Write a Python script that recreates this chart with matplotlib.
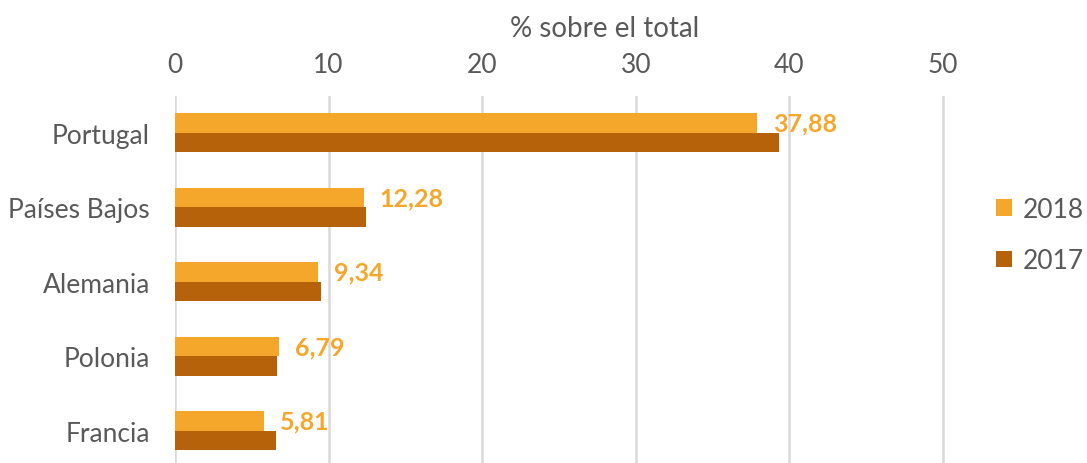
import matplotlib.pyplot as plt

paises = ["Portugal", "Países Bajos", "Alemania", "Polonia", "Francia"]
v2018 = [37.88, 12.28, 9.34, 6.79, 5.81]
v2017 = [39.3, 12.45, 9.5, 6.65, 6.55]
etiquetas = ["37,88", "12,28", "9,34", "6,79", "5,81"]

c2018 = "#F5A72B"
c2017 = "#B5620A"
gris = "#595959"

plt.rcParams['font.family'] = ['Lato', 'DejaVu Sans']

fig = plt.figure(figsize=(10.87, 4.64), dpi=100)
ax = fig.add_axes([175/1087, -5/464, 860/1087, 372.5/464])

y = list(range(len(paises)))
h = 0.26
ax.barh([i - h/2 for i in y], v2018, height=h, color=c2018, label="2018", zorder=3)
ax.barh([i + h/2 for i in y], v2017, height=h, color=c2017, label="2017", zorder=3)

for i, val in enumerate(v2018):
    ax.annotate(etiquetas[i], (val, i - h/2), xytext=(16, 0), textcoords="offset pixels",
                va="center", ha="left", color=c2018, fontsize=18, fontweight="bold")

ax.set_ylim(len(paises) - 0.5, -0.5)
ax.set_xlim(0, 56)
ax.set_xticks(range(0, 51, 10))
ax.set_yticks(y)
ax.set_yticklabels(paises)
ax.xaxis.tick_top()
ax.xaxis.set_label_position("top")
ax.set_xlabel("% sobre el total", fontsize=20, color=gris, labelpad=12)
ax.tick_params(axis="x", length=0, pad=13, labelsize=19, labelcolor=gris)
ax.tick_params(axis="y", length=0, pad=18, labelsize=19, labelcolor=gris)
ax.grid(axis="x", color="#D9D9D9", linewidth=1.8, zorder=0)
ax.grid(axis="y", visible=False)
for s in ax.spines.values():
    s.set_visible(False)

leg = fig.legend(loc="center left", bbox_to_anchor=(996/1087, 1 - 236/464), frameon=False,
                 fontsize=19, labelcolor=gris, handlelength=0.6, handleheight=0.6,
                 handletextpad=0.4, labelspacing=1.0, borderaxespad=0, borderpad=0)

fig.savefig("out.png", dpi=100)
